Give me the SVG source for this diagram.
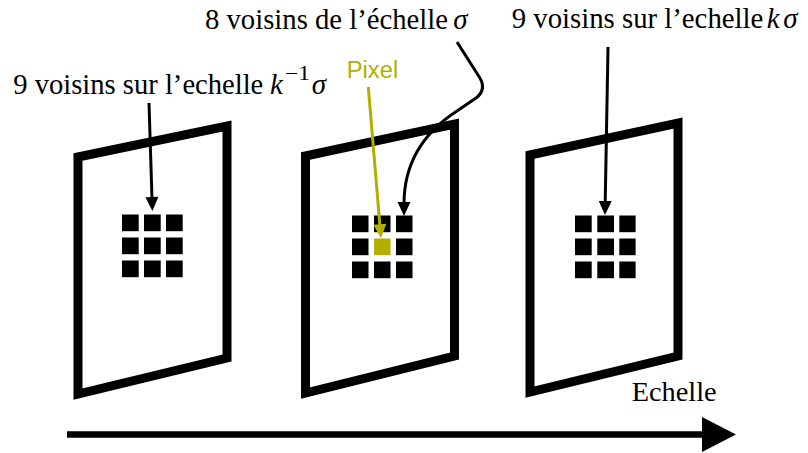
<svg xmlns="http://www.w3.org/2000/svg" width="808" height="453" viewBox="0 0 808 453">
<defs>
<style>
.frame{fill:none;stroke:#000;stroke-width:9;stroke-linejoin:miter}
.px{fill:#000}
.pxsel{fill:#b4ae00}
.lbl{font-family:"Liberation Serif","Times New Roman",serif;font-size:29px;fill:#000}
.it{font-style:italic}
.pix{font-family:"Liberation Sans",Arial,sans-serif;font-size:23.5px;fill:#b4ae00}
.con{fill:none;stroke:#000;stroke-width:3}
.conY{fill:none;stroke:#b4ae00;stroke-width:3}
</style>
<marker id="ah" markerUnits="userSpaceOnUse" markerWidth="16" markerHeight="16" refX="2" refY="0" orient="auto" viewBox="0 -8 16 16" overflow="visible">
<path d="M0,-6.5 L14,0 L0,6.5 z" fill="#000"/>
</marker>
<marker id="ahY" markerUnits="userSpaceOnUse" markerWidth="16" markerHeight="16" refX="2" refY="0" orient="auto" viewBox="0 -8 16 16" overflow="visible">
<path d="M0,-6.5 L14,0 L0,6.5 z" fill="#b4ae00"/>
</marker>
</defs>
<rect width="808" height="453" fill="#fff"/>

<g id="frame1">
<polygon class="frame" points="78,157 227,126 227,358 78,394"/>
<rect class="px" x="122" y="214.5" width="16.7" height="16.7"/>
<rect class="px" x="144" y="214.5" width="16.7" height="16.7"/>
<rect class="px" x="166" y="214.5" width="16.7" height="16.7"/>
<rect class="px" x="122" y="237.5" width="16.7" height="16.7"/>
<rect class="px" x="144" y="237.5" width="16.7" height="16.7"/>
<rect class="px" x="166" y="237.5" width="16.7" height="16.7"/>
<rect class="px" x="122" y="260.5" width="16.7" height="16.7"/>
<rect class="px" x="144" y="260.5" width="16.7" height="16.7"/>
<rect class="px" x="166" y="260.5" width="16.7" height="16.7"/>
</g>

<g id="frame2">
<polygon class="frame" points="305.5,156 454.5,124 454.5,356 305.5,393"/>
<rect class="px" x="352" y="215.5" width="16.5" height="16.7"/>
<rect class="px" x="374" y="215.5" width="16.5" height="16.7"/>
<rect class="px" x="396" y="215.5" width="16.5" height="16.7"/>
<rect class="px" x="352" y="238.5" width="16.5" height="16.7"/>
<rect class="pxsel" x="374" y="238.5" width="16.5" height="16.7"/>
<rect class="px" x="396" y="238.5" width="16.5" height="16.7"/>
<rect class="px" x="352" y="261.5" width="16.5" height="16.7"/>
<rect class="px" x="374" y="261.5" width="16.5" height="16.7"/>
<rect class="px" x="396" y="261.5" width="16.5" height="16.7"/>
</g>

<g id="frame3">
<polygon class="frame" points="530,155 678,123 678,356 530,392"/>
<rect class="px" x="575" y="215.5" width="16.7" height="16.7"/>
<rect class="px" x="597.3" y="215.5" width="16.7" height="16.7"/>
<rect class="px" x="619.3" y="215.5" width="16.3" height="16.7"/>
<rect class="px" x="575" y="238.5" width="16.7" height="16.7"/>
<rect class="px" x="597.3" y="238.5" width="16.7" height="16.7"/>
<rect class="px" x="619.3" y="238.5" width="16.3" height="16.7"/>
<rect class="px" x="575" y="261.5" width="16.7" height="16.7"/>
<rect class="px" x="597.3" y="261.5" width="16.7" height="16.7"/>
<rect class="px" x="619.3" y="261.5" width="16.3" height="16.7"/>
</g>

<g id="label-prev">
<text class="lbl" x="13.3" y="94.3" textLength="250" lengthAdjust="spacingAndGlyphs">9 voisins sur l’echelle</text>
<text class="lbl it" x="270" y="94.3">k</text>
<text class="lbl" x="285" y="80" style="font-size:20px" textLength="25" lengthAdjust="spacingAndGlyphs">−1</text>
<text class="lbl it" x="311.7" y="94.3">σ</text>
</g>

<g id="label-same">
<text class="lbl" x="205" y="29" textLength="243" lengthAdjust="spacingAndGlyphs">8 voisins de l’échelle</text>
<text class="lbl it" x="453.3" y="29">σ</text>
</g>

<g id="label-next">
<text class="lbl" x="511.7" y="27.5" textLength="251.6" lengthAdjust="spacingAndGlyphs">9 voisins sur l’echelle</text>
<text class="lbl it" x="766.7" y="27.5">k</text>
<text class="lbl it" x="783.3" y="27.5">σ</text>
</g>

<g id="label-pixel">
<text class="pix" x="346.7" y="78.3" textLength="51.6" lengthAdjust="spacingAndGlyphs">Pixel</text>
</g>

<g id="label-echelle">
<text class="lbl" x="631.7" y="400.7" style="font-size:27px" textLength="85" lengthAdjust="spacingAndGlyphs">Echelle</text>
</g>

<g id="connectors">
<path class="con" d="M149,103 L152,199" marker-end="url(#ah)"/>
<path class="con" d="M608,47 L605.2,203" marker-end="url(#ah)"/>
<path class="conY" d="M368.3,87 L380,226.3" marker-end="url(#ahY)"/>
<path class="con" d="M457,42 L478,75 Q488,89 476,98 L457,111 C426,131 404,160 404,204" marker-end="url(#ah)"/>
<path d="M67,434.5 L703,434.5" fill="none" stroke="#000" stroke-width="6.7"/>
<polygon points="702,417 736,434.5 702,452" fill="#000"/>
</g>
</svg>
